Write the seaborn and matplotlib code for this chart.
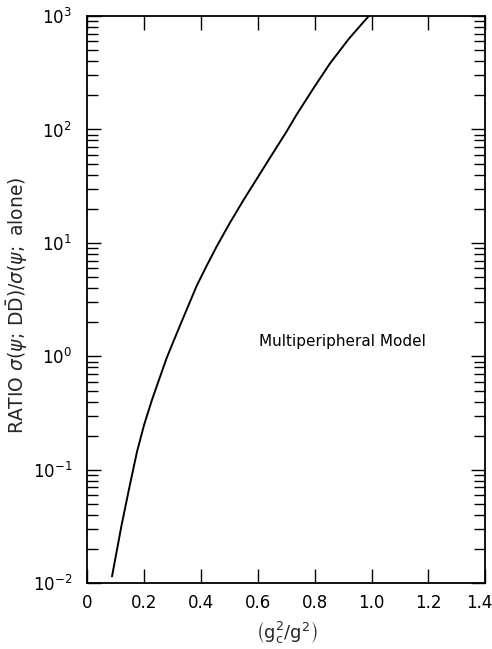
import matplotlib
matplotlib.use("Agg")
import matplotlib.pyplot as plt
import matplotlib.transforms as mtransforms
import seaborn as sns
import pandas as pd
import numpy as np
from matplotlib.ticker import LogLocator, FixedLocator, NullLocator

# Data (x = g_c^2/g^2, y = cross-section ratio)
coupling_ratio = [0.087, 0.120, 0.150, 0.175, 0.200, 0.227, 0.250, 0.280,
                  0.314, 0.350, 0.385, 0.420, 0.455, 0.500, 0.550, 0.600,
                  0.642, 0.700, 0.736, 0.800, 0.853, 0.920, 0.990]
cross_section_ratio = [0.0115, 0.032, 0.074, 0.145, 0.25, 0.41, 0.60, 0.98,
                       1.58, 2.6, 4.2, 6.3, 9.3, 14.8, 24.0, 38.0,
                       56.0, 95.0, 135.0, 240.0, 380.0, 630.0, 1000.0]
x_ticks = [0, 0.2, 0.4, 0.6, 0.8, 1.0, 1.2, 1.4]
x_tick_labels = ["0", "0.2", "0.4", "0.6", "0.8", "1.0", "1.2", "1.4"]

df = pd.DataFrame({"x": coupling_ratio, "y": cross_section_ratio})

sns.set_style("ticks")
plt.rcParams["font.family"] = ["DejaVu Sans"]
plt.rcParams["mathtext.fontset"] = "dejavusans"

fig = plt.figure(figsize=(4.92, 6.49), dpi=100)
ax = fig.add_axes([0.1774, 0.1012, 0.809, 0.8741])

sns.lineplot(data=df, x="x", y="y", ax=ax, color="black", linewidth=1.4,
             sort=False, estimator=None)

ax.set_yscale("log")
ax.set_xlim(0, 1.4)
ax.set_ylim(1e-2, 1e3)

ax.xaxis.set_major_locator(FixedLocator(x_ticks))
ax.set_xticklabels(x_tick_labels)
ax.xaxis.set_minor_locator(NullLocator())
ax.yaxis.set_major_locator(LogLocator(base=10, numticks=10))
ax.yaxis.set_minor_locator(LogLocator(base=10, subs=np.arange(2, 10), numticks=20))

ax.tick_params(which="both", direction="in", top=True, right=True,
               labelsize=12, colors="black", width=1.0)
ax.tick_params(which="major", length=10)
ax.tick_params(which="minor", length=8)
ax.tick_params(axis="x", which="major", pad=8)
ax.tick_params(axis="y", which="major", pad=11)
for s in ax.spines.values():
    s.set_linewidth(1.3)
    s.set_color("black")

# keep the last x tick label inside the canvas
last = ax.get_xticklabels()[-1]
last.set_transform(last.get_transform() +
                   mtransforms.ScaledTranslation(-6 / 100, 0, fig.dpi_scale_trans))

ax.set_xlabel(r"$\left(\mathrm{g_c^2/g^2}\right)$", fontsize=13, labelpad=5)
ax.set_ylabel(r"RATIO $\sigma(\psi;\,\mathrm{D\bar{D}})/\sigma(\psi;$ alone$)$",
              fontsize=13.5)
ax.yaxis.set_label_coords(-0.145, 0.49)

ax.text(0.603, 1.34, "Multiperipheral Model", fontsize=11,
        ha="left", va="center", color="black")

fig.savefig("out.png", dpi=100)
